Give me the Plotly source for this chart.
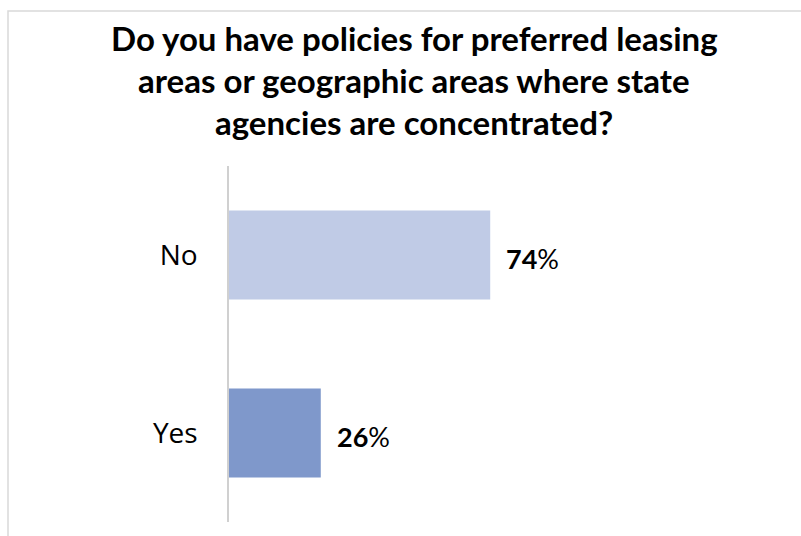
import plotly.graph_objects as go

# Survey responses
categories = ["No", "Yes"]
shares = [74, 26]
bar_colors = ["#C0CBE6", "#7F98CB"]
title_lines = [
    "Do you have policies for preferred leasing",
    "areas or geographic areas where state",
    "agencies are concentrated?",
]

W, H = 801, 536
plot_left, plot_right = 229, 582
plot_top, plot_bottom = 166, 522
pw = plot_right - plot_left
ph = plot_bottom - plot_top

fig = go.Figure(
    go.Bar(
        x=shares,
        y=categories,
        orientation="h",
        marker=dict(color=bar_colors, line=dict(width=0)),
        width=0.5,
        hoverinfo="skip",
    )
)

# value labels just past the bar ends
for cat, val in zip(categories, shares):
    fig.add_annotation(
        x=val, y=cat, xref="x", yref="y",
        text=f"<b>{val}</b>%",
        showarrow=False, xanchor="left", yanchor="middle",
        xshift=14, yshift=-3,
        font=dict(family="Lato", size=27, color="#000000"),
    )

# three-line bold title, one annotation per line
title_centers_px = [38, 80, 122]
for line, cy in zip(title_lines, title_centers_px):
    fig.add_annotation(
        x=(414 - plot_left) / pw, y=(plot_bottom - cy) / ph,
        xref="paper", yref="paper",
        text=f"<b>{line}</b>",
        showarrow=False, xanchor="center", yanchor="middle",
        font=dict(family="Lato", size=33, color="#000000"),
    )

# light frame around the chart area (top and left edges visible)
fig.add_shape(
    type="rect", xref="paper", yref="paper",
    x0=(8 - plot_left) / pw, x1=(W + 20 - plot_left) / pw,
    y0=(plot_bottom - (H + 20)) / ph, y1=(plot_bottom - 11) / ph,
    line=dict(color="#D9D9D9", width=1.5), fillcolor="rgba(0,0,0,0)",
    layer="below",
)

fig.update_layout(
    width=W, height=H,
    margin=dict(l=plot_left, r=W - plot_right, t=plot_top, b=H - plot_bottom),
    paper_bgcolor="white", plot_bgcolor="white",
    showlegend=False,
    xaxis=dict(range=[0, 100], visible=False, fixedrange=True),
    yaxis=dict(
        autorange="reversed",
        showline=True, linecolor="#D0D0D0", linewidth=1.5,
        showgrid=False, zeroline=False, ticks="",
        ticklabelstandoff=24,
        tickfont=dict(family="Open Sans", size=28, color="#000000"),
        fixedrange=True,
    ),
)

fig.write_html("out.html", config={"displayModeBar": False})
